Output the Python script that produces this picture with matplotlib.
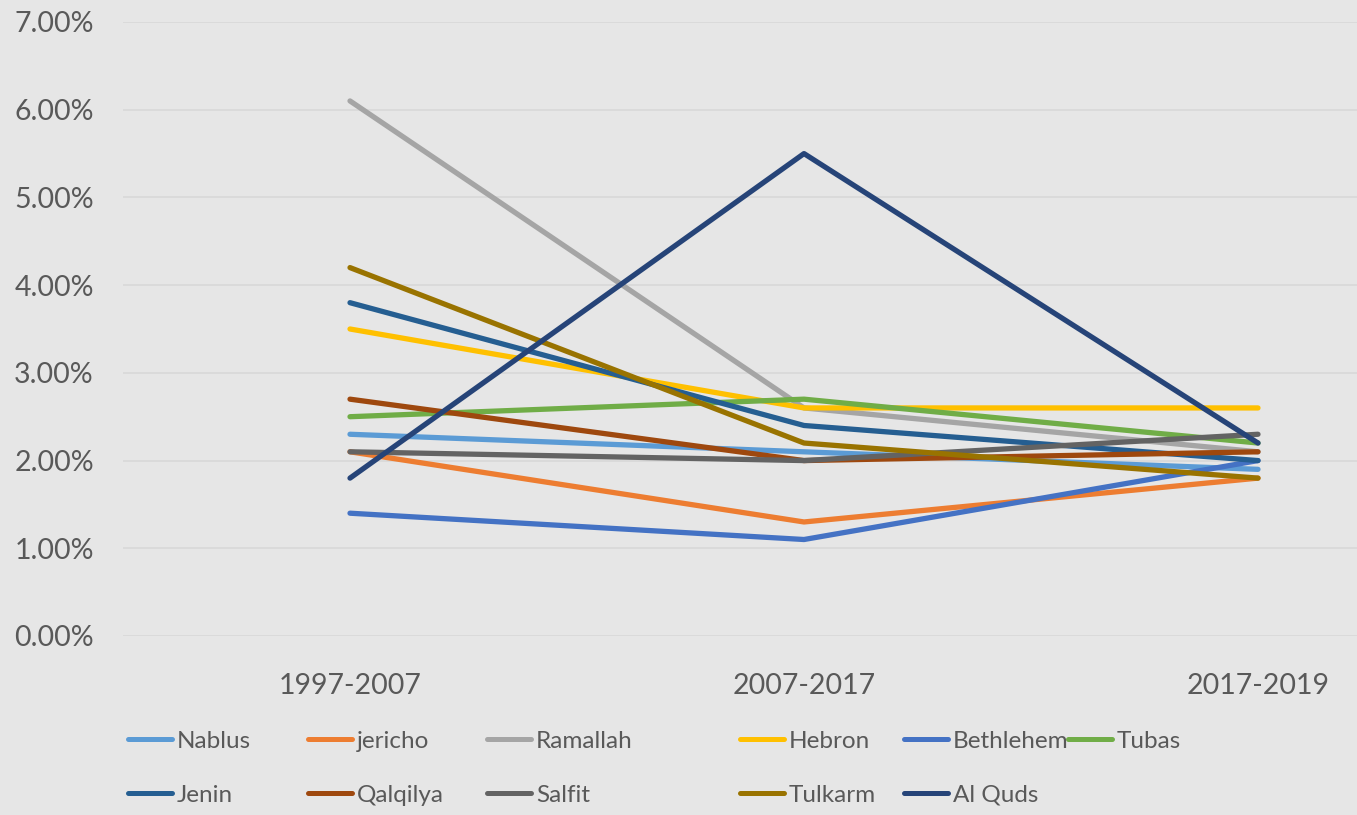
import matplotlib
matplotlib.use("Agg")
import matplotlib.pyplot as plt
from matplotlib.lines import Line2D
from matplotlib.ticker import PercentFormatter

plt.rcParams['font.family'] = ['Lato', 'DejaVu Sans']

periods = ["1997-2007", "2007-2017", "2017-2019"]
series_names = ["Nablus", "jericho", "Ramallah", "Hebron", "Bethlehem", "Tubas",
                "Jenin", "Qalqilya", "Salfit", "Tulkarm", "Al Quds"]
nablus = [2.3, 2.1, 1.9]
jericho = [2.1, 1.3, 1.8]
ramallah = [6.1, 2.6, 2.1]
hebron = [3.5, 2.6, 2.6]
bethlehem = [1.4, 1.1, 2.0]
tubas = [2.5, 2.7, 2.2]
jenin = [3.8, 2.4, 2.0]
qalqilya = [2.7, 2.0, 2.1]
salfit = [2.1, 2.0, 2.3]
tulkarm = [4.2, 2.2, 1.8]
al_quds = [1.8, 5.5, 2.2]
series_values = [nablus, jericho, ramallah, hebron, bethlehem, tubas,
                 jenin, qalqilya, salfit, tulkarm, al_quds]
colors = ["#5B9BD5", "#ED7D31", "#A5A5A5", "#FFC000", "#4472C4", "#70AD47",
          "#255E91", "#9E480E", "#636363", "#997300", "#264478"]
y_ticks = [0, 1, 2, 3, 4, 5, 6, 7]

W, H = 1357, 815
bg = "#E6E6E6"
txt = "#595959"
fig = plt.figure(figsize=(W / 100, H / 100), dpi=100, facecolor=bg)
left, right, top, bottom = 123, 1357, 22, 636
ax = fig.add_axes([left / W, 1 - bottom / H, (right - left) / W, (bottom - top) / H])
ax.set_facecolor(bg)

x = list(range(len(periods)))
lw = 3.8
for name, vals, c in zip(series_names, series_values, colors):
    ax.plot(x, vals, color=c, lw=lw, solid_capstyle='round', solid_joinstyle='round', zorder=3)

ax.set_ylim(0, 7)
span = (right - left) / 454.0
ax.set_xlim(-0.5, -0.5 + span)
ax.set_yticks(y_ticks)
ax.yaxis.set_major_formatter(PercentFormatter(100, decimals=2))
ax.set_xticks(x)
ax.set_xticklabels(periods)
ax.grid(axis='y', color="#D9D9D9", lw=1.3)
ax.set_axisbelow(True)
for s in ax.spines.values():
    s.set_visible(False)
ax.tick_params(axis='both', length=0, labelsize=20.5, colors=txt)
ax.tick_params(axis='y', pad=21)
ax.tick_params(axis='x', pad=27)

# legend (Excel-style layout, row-major)
col_x = [126, 306, 485, 738, 902, 1066]
row_y = [739, 793]
for i, (name, c) in enumerate(zip(series_names, colors)):
    r, k = divmod(i, 6)
    x0 = col_x[k]
    y0 = row_y[r]
    fig.add_artist(Line2D([(x0 + 2) / W, (x0 + 46) / W], [1 - y0 / H, 1 - y0 / H],
                          color=c, lw=3.6, solid_capstyle='round', transform=fig.transFigure))
    fig.text((x0 + 51) / W, 1 - y0 / H, name, color=txt, fontsize=17.5,
             ha='left', va='center_baseline')

fig.savefig("out.png", dpi=100, facecolor=bg)
